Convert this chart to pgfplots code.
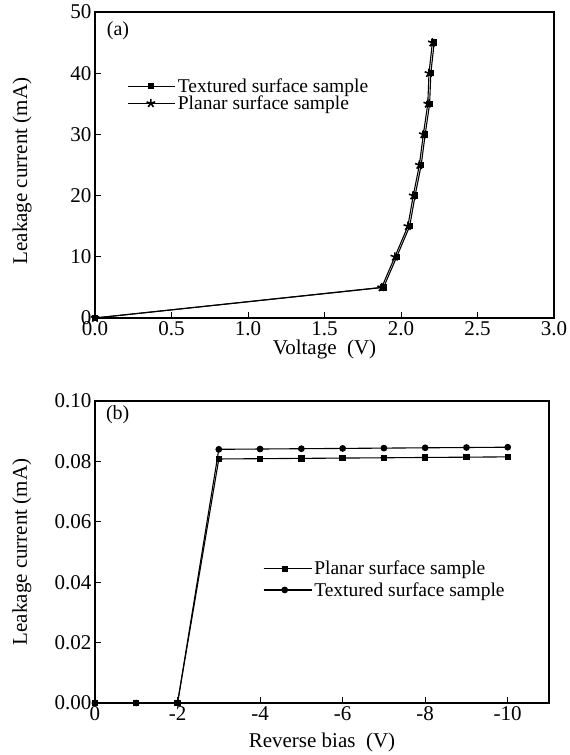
\documentclass[border=0pt]{standalone}
\usepackage{fontspec}
\setmainfont{Liberation Serif}
\usepackage{pgfplots}
\pgfplotsset{compat=1.18}
\pgfplotsset{
  common/.style={
    scale only axis,
    axis line style={line width=1.3bp},
    tick pos=left,
    tick align=inside,
    major tick length=6bp,
    every tick/.style={line width=1bp, black},
    /pgf/number format/assume math mode=true,
    tick label style={font=\fontsize{21bp}{24bp}\selectfont},
    label style={font=\fontsize{21bp}{24bp}\selectfont},
    legend style={font=\fontsize{19.5bp}{21bp}\selectfont, draw=none, fill=none, inner sep=0pt,
      cells={anchor=west}},
    legend cell align=left,
  }
}
\pgfplotstableread{
x y
0 0
1.874 5
1.960 10
2.045 15
2.080 20
2.120 25
2.146 30
2.175 35
2.183 40
2.205 45
}\planarA
\pgfplotstableread{
x y
0 0
1.886 5
1.972 10
2.057 15
2.092 20
2.132 25
2.158 30
2.187 35
2.195 40
2.217 45
}\texturedA
\pgfplotstableread{
x y
0 0
-1 0
-2 0
-3 0.0808
-4 0.0809
-5 0.0810
-6 0.0811
-7 0.0812
-8 0.0813
-9 0.0814
-10 0.0815
}\planarB
\pgfplotstableread{
x y
0 0
-1 0
-2 0
-3 0.0840
-4 0.0841
-5 0.0842
-6 0.0843
-7 0.0844
-8 0.0845
-9 0.0846
-10 0.0847
}\texturedB
\begin{document}
\begin{tikzpicture}
\path[use as bounding box] (0,0) rectangle (570bp,755bp);
\begin{axis}[common,
  at={(95bp,437bp)}, anchor=south west,
  width=459bp, height=306bp,
  xmin=0, xmax=3, ymin=0, ymax=50,
  xtick={0,0.5,...,3}, ytick={0,10,...,50},
  xticklabel style={/pgf/number format/.cd, fixed, fixed zerofill, precision=1},
  xlabel={Voltage\ \ (V)},
  ylabel={Leakage current (mA)},
  xlabel style={at={(axis description cs:0.5,0)}, anchor=center, yshift=-31bp},
  ylabel style={at={(axis description cs:-0.159,0.48)}, anchor=center},
  legend style={at={(axis description cs:0.071,0.79)}, anchor=north west, row sep=-2bp},
  legend image code/.code={
    \draw[mark=none] (0bp,0bp) -- (15bp,0bp);
    \draw[mark=none] (30bp,0bp) -- (45bp,0bp);
    \draw plot[only marks] coordinates {(22.5bp,0bp)};
    \path (0bp,0bp) -- (47bp,0bp);
  },
]
\addplot[black, line width=1.1bp, mark=square*, mark size=2.6bp] table {\texturedA};
\addlegendentry{Textured surface sample}
\addplot[black, line width=1.1bp, mark=star, mark size=4.5bp, mark options={line width=1.6bp}] table {\planarA};
\addlegendentry{Planar surface sample}
\node[font=\fontsize{20bp}{22bp}\selectfont, anchor=center] at (axis description cs:0.05,0.94) {(a)};
\end{axis}
\begin{axis}[common,
  at={(95bp,52bp)}, anchor=south west,
  width=454bp, height=302bp,
  x dir=reverse,
  xmin=-11, xmax=0, ymin=0, ymax=0.1,
  xtick={0,-2,-4,-6,-8,-10}, xticklabels={0,-2,-4,-6,-8,-10},
  ytick={0,0.02,...,0.1},
  yticklabel style={/pgf/number format/.cd, fixed, fixed zerofill, precision=2},
  xlabel={Reverse bias\ \ (V)},
  ylabel={Leakage current (mA)},
  xlabel style={at={(axis description cs:0.5,0)}, anchor=center, yshift=-39bp},
  ylabel style={at={(axis description cs:-0.161,0.5)}, anchor=center},
  legend style={at={(axis description cs:0.37,0.477)}, anchor=north west, row sep=2bp},
  legend image code/.code={
    \draw[mark=none] (0bp,0bp) -- (14bp,0bp);
    \draw[mark=none] (28bp,0bp) -- (42bp,0bp);
    \draw plot[only marks] coordinates {(21bp,0bp)};
    \path (0bp,0bp) -- (48bp,0bp);
  },
]
\addplot[black, line width=1.1bp, mark=square*, mark size=2.6bp] table {\planarB};
\addlegendentry{Planar surface sample}
\addplot[black, line width=1.1bp, mark=*, mark size=2.8bp] table {\texturedB};
\addlegendentry{Textured surface sample}
\node[font=\fontsize{20bp}{22bp}\selectfont, anchor=center] at (axis description cs:0.05,0.955) {(b)};
\end{axis}
\end{tikzpicture}
\end{document}
